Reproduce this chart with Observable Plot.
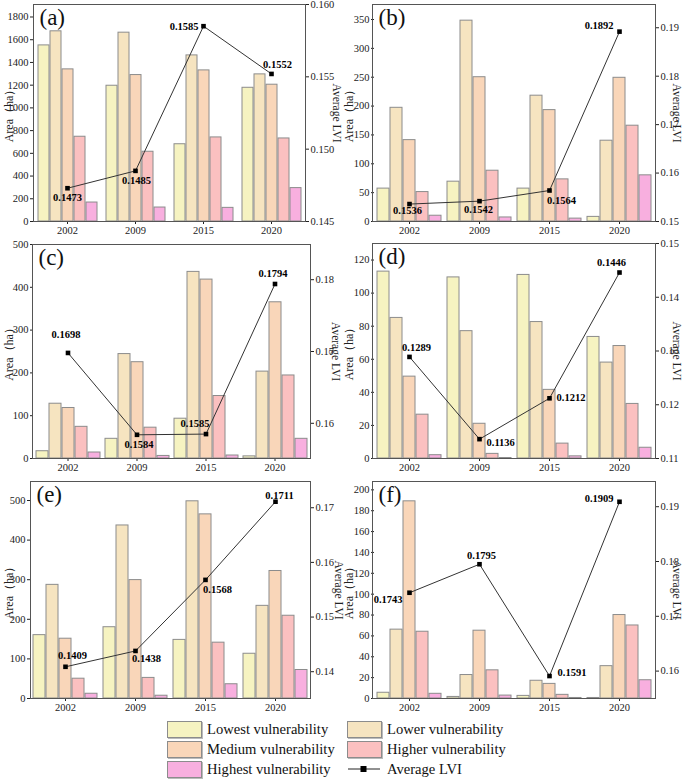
<!DOCTYPE html>
<html>
<head>
<meta charset="utf-8">
<script src="https://cdn.jsdelivr.net/npm/d3@7"></script>
<script src="https://cdn.jsdelivr.net/npm/@observablehq/plot@0.6"></script>
<style>
  html, body { margin: 0; padding: 0; background: #fff; }
  #root { position: relative; width: 685px; height: 780px; font-family: "Liberation Serif", "Times New Roman", "DejaVu Serif", serif; }
  .pane { position: absolute; }
  .pane svg { position: absolute; left: 0; top: 0; }
  .lg-item { position: absolute; display: flex; align-items: center; white-space: nowrap; font-size: 14.6px; color: #111; font-family: "Liberation Serif", "Times New Roman", "DejaVu Serif", serif; }
  .sw { width: 35px; height: 17px; border: 1px solid #8c8c8c; box-shadow: 1px 1px 0 #bbb; margin-right: 5px; box-sizing: border-box; }
</style>
</head>
<body>
<div id="root"></div>
<script>
// ---------- data ----------
const years = ["2002", "2009", "2015", "2020"];
const categories = ["Lowest vulnerability", "Lower vulnerability", "Medium vulnerability", "Higher vulnerability", "Highest vulnerability"];
const colors = ["#f6f3c1", "#f6e4c0", "#f9d6b9", "#fbc0c0", "#f8afdf"];

// rows: category (lowest..highest), columns: years
const areaA = [[1550, 1195, 680, 1177], [1674, 1662, 1462, 1295], [1339, 1289, 1330, 1204], [746, 614, 740, 731], [167, 123, 120, 294]];
const lviA = [0.1473, 0.1485, 0.1585, 0.1552];
const areaB = [[57, 69, 57, 8], [197, 348, 218, 140], [141, 250, 193, 249], [51, 88, 73, 166], [10, 7, 5, 80]];
const lviB = [0.1536, 0.1542, 0.1564, 0.1892];
const areaC = [[17, 46, 93, 5], [128, 244, 436, 203], [118, 225, 418, 365], [74, 72, 146, 194], [14, 6, 7, 46]];
const lviC = [0.1698, 0.1584, 0.1585, 0.1794];
const areaD = [[113, 109.5, 111, 73.5], [85, 77, 82.5, 58], [49.5, 21, 41.5, 68], [26.5, 2.8, 9, 33], [2, 0.3, 1.3, 6.5]];
const lviD = [0.1289, 0.1136, 0.1212, 0.1446];
const areaE = [[160, 180, 148, 113], [287, 437, 498, 234], [151, 299, 465, 322], [50, 52, 141, 209], [12, 7, 36, 72]];
const lviE = [0.1409, 0.1438, 0.1568, 0.1711];
const areaF = [[5.5, 1.5, 2.5, 0.5], [66, 22.5, 17, 31], [189, 65, 14, 80], [64, 27, 3.5, 70], [4.5, 2.8, 0.5, 17.5]];
const lviF = [0.1743, 0.1795, 0.1591, 0.1909];

const yTicksA = d3.range(0, 1801, 200);
const yTicksB = d3.range(0, 351, 50);
const yTicksC = d3.range(0, 501, 100);
const yTicksD = d3.range(0, 121, 20);
const yTicksE = d3.range(0, 501, 100);
const yTicksF = d3.range(0, 201, 20);
const rTicksA = [0.145, 0.150, 0.155, 0.160];
const rTicksB = [0.15, 0.16, 0.17, 0.18, 0.19];
const rTicksC = [0.16, 0.17, 0.18];
const rTicksD = [0.11, 0.12, 0.13, 0.14, 0.15];
const rTicksE = [0.14, 0.15, 0.16, 0.17];
const rTicksF = [0.16, 0.17, 0.18, 0.19];
const leftTitle = "Area（ha）";
const rightTitle = "Average LVI";

// ---------- layout / style config ----------
const FONT = '"Liberation Serif", "Times New Roman", "DejaVu Serif", serif';
const panels = [
  {letter: "(a)", area: areaA, lvi: lviA, yTicks: yTicksA, rTicks: rTicksA, rFmt: ".3f", yDom: [0, 1910], rDom: [0.145, 0.160],
   left: 0, top: 0, w: 340, h: 240, mL: 33, mR: 35, mT: 4, mB: 19, rdx: 31,
   lab: [[0, 9, "middle"], [1, 10, "middle"], [-5, 0, "end"], [6, -9, "middle"]]},
  {letter: "(b)", area: areaB, lvi: lviB, yTicks: yTicksB, rTicks: rTicksB, rFmt: ".2f", yDom: [0, 376], rDom: [0.15, 0.1948],
   left: 340, top: 0, w: 345, h: 240, mL: 32, mR: 30, mT: 4, mB: 19, rdx: 21,
   lab: [[-2, 7, "middle"], [-1, 8, "middle"], [12, 10, "middle"], [-6, -6, "end"]]},
  {letter: "(c)", area: areaC, lvi: lviC, yTicks: yTicksC, rTicks: rTicksC, rFmt: ".2f", yDom: [0, 500], rDom: [0.1551, 0.1849],
   left: 0, top: 236, w: 340, h: 242, mL: 32, mR: 30, mT: 8, mB: 20, rdx: 25,
   lab: [[-2, -18, "middle"], [2, 10, "middle"], [-11, -10, "middle"], [-2, -10, "middle"]]},
  {letter: "(d)", area: areaD, lvi: lviD, yTicks: yTicksD, rTicks: rTicksD, rFmt: ".2f", yDom: [0, 130], rDom: [0.11, 0.15],
   left: 340, top: 236, w: 345, h: 242, mL: 32, mR: 30, mT: 7, mB: 20, rdx: 21,
   lab: [[7, -9, "middle"], [7, 3, "start"], [7, -1, "start"], [-8, -10, "middle"]]},
  {letter: "(e)", area: areaE, lvi: lviE, yTicks: yTicksE, rTicks: rTicksE, rFmt: ".2f", yDom: [0, 548], rDom: [0.1351, 0.1748],
   left: 0, top: 474, w: 340, h: 242, mL: 30, mR: 30, mT: 7, mB: 18, rdx: 28,
   lab: [[7, -11, "middle"], [11, 8, "middle"], [12, 10, "middle"], [4, -6, "middle"]]},
  {letter: "(f)", area: areaF, lvi: lviF, yTicks: yTicksF, rTicks: rTicksF, rFmt: ".2f", yDom: [0, 208], rDom: [0.155, 0.1946],
   left: 340, top: 474, w: 345, h: 242, mL: 32, mR: 30, mT: 7, mB: 18, rdx: 21,
   lab: [[-7, 7, "end"], [2, -9, "middle"], [8, -3, "start"], [-6, -3, "end"]]}
];

const root = document.getElementById("root");

function drawPanel(cfg) {
  const rows = [];
  cfg.area.forEach((vals, ci) => vals.forEach((v, yi) => rows.push({year: years[yi], cat: categories[ci], value: v})));
  const pts = cfg.lvi.map((v, i) => ({year: years[i], lvi: v}));

  const common = {
    width: cfg.w, height: cfg.h,
    marginLeft: cfg.mL, marginRight: cfg.mR, marginTop: cfg.mT, marginBottom: cfg.mB,
    style: {fontFamily: FONT, fontSize: "10.5px", color: "#222", background: "transparent", overflow: "visible"}
  };

  const bars = Plot.plot({
    ...common,
    fx: {domain: years, padding: 0, axis: null},
    x: {domain: categories, paddingInner: 0.1, paddingOuter: 0.2, axis: null},
    y: {domain: cfg.yDom, ticks: cfg.yTicks, tickFormat: d3.format("d"), tickSize: 3, tickPadding: 2, label: null},
    color: {domain: categories, range: colors},
    marks: [
      Plot.barY(rows, {fx: "year", x: "cat", y: "value", fill: "cat", stroke: "#8c8c8c", strokeWidth: 1})
    ]
  });

  const labelMarks = pts.map((p, i) => {
    const [dx, dy, anchor] = cfg.lab[i];
    return Plot.text([p], {x: "year", y: "lvi", text: d => d.lvi.toFixed(4), dx, dy, textAnchor: anchor,
      fontWeight: "bold", fontSize: 10.5, fill: "#000"});
  });

  const overlay = Plot.plot({
    ...common,
    x: {type: "band", domain: years, padding: 0, tickSize: 3, tickPadding: 2, label: null},
    y: {domain: cfg.rDom, axis: "right", ticks: cfg.rTicks, tickFormat: d3.format(cfg.rFmt), tickSize: 3, tickPadding: 2, label: null},
    marks: [
      Plot.frame({stroke: "#555", strokeWidth: 1}),
      Plot.line(pts, {x: "year", y: "lvi", stroke: "#333", strokeWidth: 1}),
      Plot.dot(pts, {x: "year", y: "lvi", symbol: "square", r: 2.6, fill: "#000", stroke: "none"}),
      ...labelMarks,
      Plot.text([cfg.letter], {frameAnchor: "top-left", dx: 6, dy: 4, lineAnchor: "top", textAnchor: "start", fontSize: 23, fill: "#111"}),
      Plot.text([leftTitle], {frameAnchor: "left", dx: -(cfg.mL - 9), rotate: -90, fontSize: 12, fill: "#222", textAnchor: "middle"}),
      Plot.text([rightTitle], {frameAnchor: "right", dx: cfg.rdx, rotate: 90, fontSize: 11.5, fill: "#222", textAnchor: "middle"})
    ]
  });

  const pane = document.createElement("div");
  pane.className = "pane";
  pane.style.left = cfg.left + "px";
  pane.style.top = cfg.top + "px";
  pane.style.width = cfg.w + "px";
  pane.style.height = cfg.h + "px";
  pane.appendChild(bars);
  pane.appendChild(overlay);
  root.appendChild(pane);
}

panels.forEach(drawPanel);

// ---------- legend ----------
const legendItems = [
  {label: categories[0], color: colors[0], x: 167, y: 720},
  {label: categories[1], color: colors[1], x: 347, y: 720},
  {label: categories[2], color: colors[2], x: 167, y: 740},
  {label: categories[3], color: colors[3], x: 347, y: 740},
  {label: categories[4], color: colors[4], x: 167, y: 760},
  {label: "Average LVI", line: true, x: 347, y: 760}
];
legendItems.forEach(it => {
  const el = document.createElement("div");
  el.className = "lg-item";
  el.style.left = it.x + "px";
  el.style.top = it.y + "px";
  el.style.height = "18px";
  if (it.line) {
    el.innerHTML = '<svg width="36" height="16" style="margin-right:4px"><line x1="1" x2="33" y1="8" y2="8" stroke="#222" stroke-width="1"/><rect x="13.5" y="5" width="6" height="6" fill="#000"/></svg>';
  } else {
    const sw = document.createElement("span");
    sw.className = "sw";
    sw.style.background = it.color;
    el.appendChild(sw);
  }
  const t = document.createElement("span");
  t.textContent = it.label;
  el.appendChild(t);
  root.appendChild(el);
});
</script>
</body>
</html>
